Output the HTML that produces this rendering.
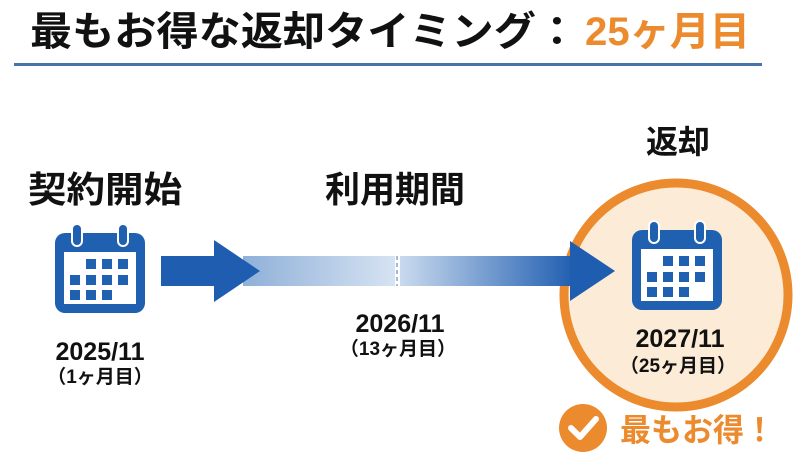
<!DOCTYPE html>
<html><head><meta charset="utf-8"><style>
html,body{margin:0;padding:0;background:#fff;}
svg{display:block;}
text{font-family:"Liberation Sans","Noto Sans CJK JP",sans-serif;font-weight:bold;}
</style></head><body>
<svg width="800" height="465" viewBox="0 0 800 465" xmlns="http://www.w3.org/2000/svg">
<defs>
<linearGradient id="g1" x1="0" x2="1" y1="0" y2="0">
<stop offset="0" stop-color="#8fb0d8"/><stop offset="1" stop-color="#d6e3f2"/>
</linearGradient>
<linearGradient id="g2" x1="0" x2="1" y1="0" y2="0">
<stop offset="0" stop-color="#c9daee"/><stop offset="1" stop-color="#1f5db0"/>
</linearGradient>
<g id="cal">
<rect x="0" y="10" width="90" height="80" rx="10" fill="#2060b0"/>
<rect x="9" y="29" width="72" height="52" fill="#fff"/>
<rect x="16" y="0" width="12" height="24" rx="6" fill="#fff"/>
<rect x="18" y="2" width="8" height="20" rx="4" fill="#2060b0"/>
<rect x="62" y="0" width="12" height="24" rx="6" fill="#fff"/>
<rect x="64" y="2" width="8" height="20" rx="4" fill="#2060b0"/>
<g fill="#2060b0">
<rect x="31" y="36" width="10" height="10"/><rect x="47" y="36" width="10" height="10"/><rect x="63" y="36" width="10" height="10"/>
<rect x="15" y="52" width="10" height="10"/><rect x="31" y="52" width="10" height="10"/><rect x="47" y="52" width="10" height="10"/><rect x="63" y="52" width="10" height="10"/>
<rect x="15" y="67" width="10" height="10"/><rect x="31" y="67" width="10" height="10"/><rect x="47" y="67" width="10" height="10"/>
</g>
</g>
</defs>
<text x="30" y="45" font-size="40" fill="#111" textLength="548" lengthAdjust="spacingAndGlyphs">最もお得な返却タイミング：</text>
<text x="585" y="45" font-size="40" fill="#ec8a2e" textLength="165" lengthAdjust="spacingAndGlyphs">25ヶ月目</text>
<rect x="14" y="63" width="748" height="3" fill="#4674a8"/>

<circle cx="676" cy="295" r="112" fill="#fcebd6" stroke="#ec8a2e" stroke-width="9"/>
<text x="678" y="153" font-size="32" fill="#111" text-anchor="middle">返却</text>
<text x="28" y="202" font-size="36" fill="#111" textLength="154" lengthAdjust="spacingAndGlyphs">契約開始</text>
<text x="325" y="202" font-size="36" fill="#111" textLength="140" lengthAdjust="spacingAndGlyphs">利用期間</text>

<rect x="243" y="256" width="152" height="30" fill="url(#g1)"/>
<rect x="400" y="256" width="176" height="30" fill="url(#g2)"/>
<line x1="397" y1="256" x2="397" y2="286" stroke="#9fbbe0" stroke-width="2" stroke-dasharray="4,3"/>
<rect x="161" y="256" width="60" height="30" fill="#1f5db0"/>
<polygon points="214,240 260,271 214,302" fill="#1f5db0"/>
<polygon points="570,241 615,271 570,301" fill="#1f5db0"/>

<use href="#cal" x="55" y="223"/>
<use href="#cal" x="632" y="220"/>

<text x="100" y="360" font-size="25" fill="#111" text-anchor="middle">2025/11</text>
<text x="100" y="383" font-size="19" fill="#111" text-anchor="middle">（1ヶ月目）</text>
<text x="400" y="332" font-size="25" fill="#111" text-anchor="middle">2026/11</text>
<text x="398" y="355" font-size="19" fill="#111" text-anchor="middle">（13ヶ月目）</text>
<text x="680" y="347" font-size="25" fill="#111" text-anchor="middle">2027/11</text>
<text x="678" y="372" font-size="19" fill="#111" text-anchor="middle">（25ヶ月目）</text>

<circle cx="583" cy="428" r="24" fill="#ec8a2e"/>
<polyline points="571,428 580,437 596,419" fill="none" stroke="#fff" stroke-width="6" stroke-linecap="round" stroke-linejoin="round"/>
<text x="620" y="441" font-size="32" fill="#ec8a2e" textLength="155" lengthAdjust="spacingAndGlyphs">最もお得！</text>
</svg>
</body></html>
